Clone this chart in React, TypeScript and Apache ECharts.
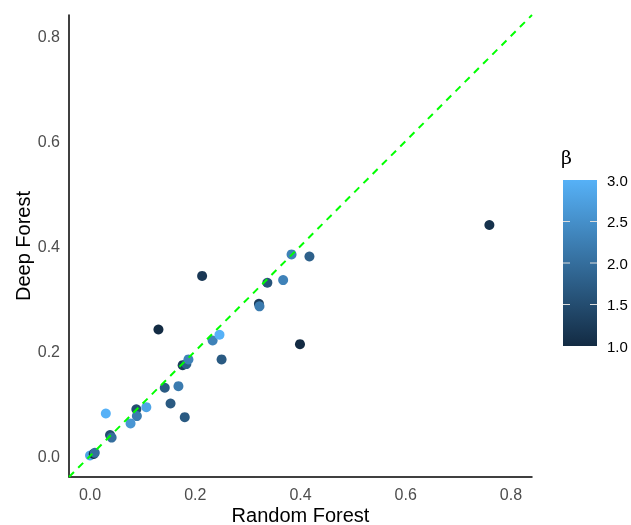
import React, { useEffect, useRef } from "react";
import * as echarts from "echarts";

// Random Forest (x), Deep Forest (y), beta (colour)
const randomForest = [0.030, 0.130, 0.088, 0.089, 0.107, 0.077, 0.038, 0.041, 0.000, 0.007, 0.009, 0.142, 0.168, 0.153, 0.180, 0.176, 0.183, 0.187, 0.233, 0.246, 0.250, 0.321, 0.322, 0.213, 0.383, 0.417, 0.337, 0.367, 0.399, 0.759];
const deepForest = [0.081, 0.241, 0.089, 0.076, 0.093, 0.062, 0.040, 0.035, 0.001, 0.004, 0.006, 0.130, 0.133, 0.100, 0.074, 0.173, 0.175, 0.184, 0.220, 0.231, 0.184, 0.290, 0.285, 0.343, 0.384, 0.380, 0.330, 0.335, 0.213, 0.440];
const betaValues = [3.0, 1.0, 1.5, 2.2, 2.8, 2.6, 1.5, 2.0, 2.8, 1.0, 2.0, 1.7, 2.2, 1.7, 1.7, 1.3, 1.8, 2.3, 2.3, 3.0, 1.7, 1.3, 2.2, 1.2, 2.3, 1.8, 1.6, 2.3, 1.0, 1.1];
const axisTicks = [0.0, 0.2, 0.4, 0.6, 0.8];
const legendTicks = [3.0, 2.5, 2.0, 1.5, 1.0];
const axisMin = -0.04;
const axisMax = 0.84;
const betaMin = 1;
const betaMax = 3;
const lowColor = "#132B43";
const highColor = "#56B1F7";

export default function App() {
  const ref = useRef<HTMLDivElement>(null);
  useEffect(() => {
    if (!ref.current) return;
    const chart = echarts.init(ref.current, null, { renderer: "svg" });
    const pts = randomForest.map((x, i) => [x, deepForest[i], betaValues[i]]);
    const barX = 563, barY = 180, barW = 34, barH = 166;
    const tickY = (v: number) => barY + (barH * (betaMax - v)) / (betaMax - betaMin);
    const graphics: any[] = [
      {
        type: "rect",
        shape: { x: barX, y: barY, width: barW, height: barH },
        style: {
          fill: new echarts.graphic.LinearGradient(0, 0, 0, 1, [
            { offset: 0, color: highColor },
            { offset: 1, color: lowColor },
          ]),
        },
      },
      {
        type: "text",
        x: 561,
        y: 157,
        style: { text: "β", font: "19px 'DejaVu Serif'", fill: "#000", verticalAlign: "middle", align: "left" },
      },
    ];
    legendTicks.forEach((v) => {
      const y = tickY(v);
      if (v !== betaMax && v !== betaMin) {
        graphics.push({ type: "line", shape: { x1: barX, y1: y, x2: barX + 7, y2: y }, style: { stroke: "#DDDDDD", lineWidth: 1 } });
        graphics.push({ type: "line", shape: { x1: barX + barW - 7, y1: y, x2: barX + barW, y2: y }, style: { stroke: "#DDDDDD", lineWidth: 1 } });
      }
      graphics.push({
        type: "text",
        x: 607,
        y,
        style: { text: v.toFixed(1), font: "15px 'Liberation Sans'", fill: "#000", verticalAlign: "middle", align: "left" },
      });
    });

    chart.setOption({
      animation: false,
      textStyle: { fontFamily: "Liberation Sans" },
      grid: { left: 69, right: 99, top: 15, bottom: 48, containLabel: false, outerBoundsMode: "none" },
      xAxis: {
        type: "value",
        min: axisMin,
        max: axisMax,
        splitLine: { show: false },
        axisTick: { show: false },
        axisLine: { show: true, onZero: false, lineStyle: { color: "#000", width: 1.5 } },
        axisLabel: {
          color: "#4D4D4D",
          fontSize: 16,
          margin: 9,
          customValues: axisTicks,
          formatter: (v: number) => v.toFixed(1),
        },
        name: "Random Forest",
        nameLocation: "middle",
        nameGap: 28,
        nameMoveOverlap: false,
        nameTextStyle: { fontSize: 20, color: "#000" },
      },
      yAxis: {
        type: "value",
        min: axisMin,
        max: axisMax,
        splitLine: { show: false },
        axisTick: { show: false },
        axisLine: { show: true, onZero: false, lineStyle: { color: "#000", width: 1.5 } },
        axisLabel: {
          color: "#4D4D4D",
          fontSize: 16,
          margin: 9,
          customValues: axisTicks,
          formatter: (v: number) => v.toFixed(1),
        },
        name: "Deep Forest",
        nameLocation: "middle",
        nameGap: 36,
        nameMoveOverlap: false,
        nameTextStyle: { fontSize: 20, color: "#000" },
      },
      visualMap: {
        show: false,
        type: "continuous",
        min: betaMin,
        max: betaMax,
        dimension: 2,
        seriesIndex: 1,
        inRange: { color: [lowColor, highColor] },
      },
      series: [
        {
          type: "line",
          data: [
            [axisMin, axisMin],
            [axisMax, axisMax],
          ],
          symbol: "none",
          lineStyle: { color: "#00FF00", width: 2, type: [7, 6] },
          silent: true,
          z: 3,
        },
        {
          type: "scatter",
          data: pts,
          symbolSize: 10,
          itemStyle: { opacity: 1 },
          z: 2,
        },
      ],
      graphic: graphics,
    });
    return () => chart.dispose();
  }, []);
  return <div ref={ref} style={{ position: "fixed", left: 0, top: 0, width: 631, height: 525 }} />;
}
